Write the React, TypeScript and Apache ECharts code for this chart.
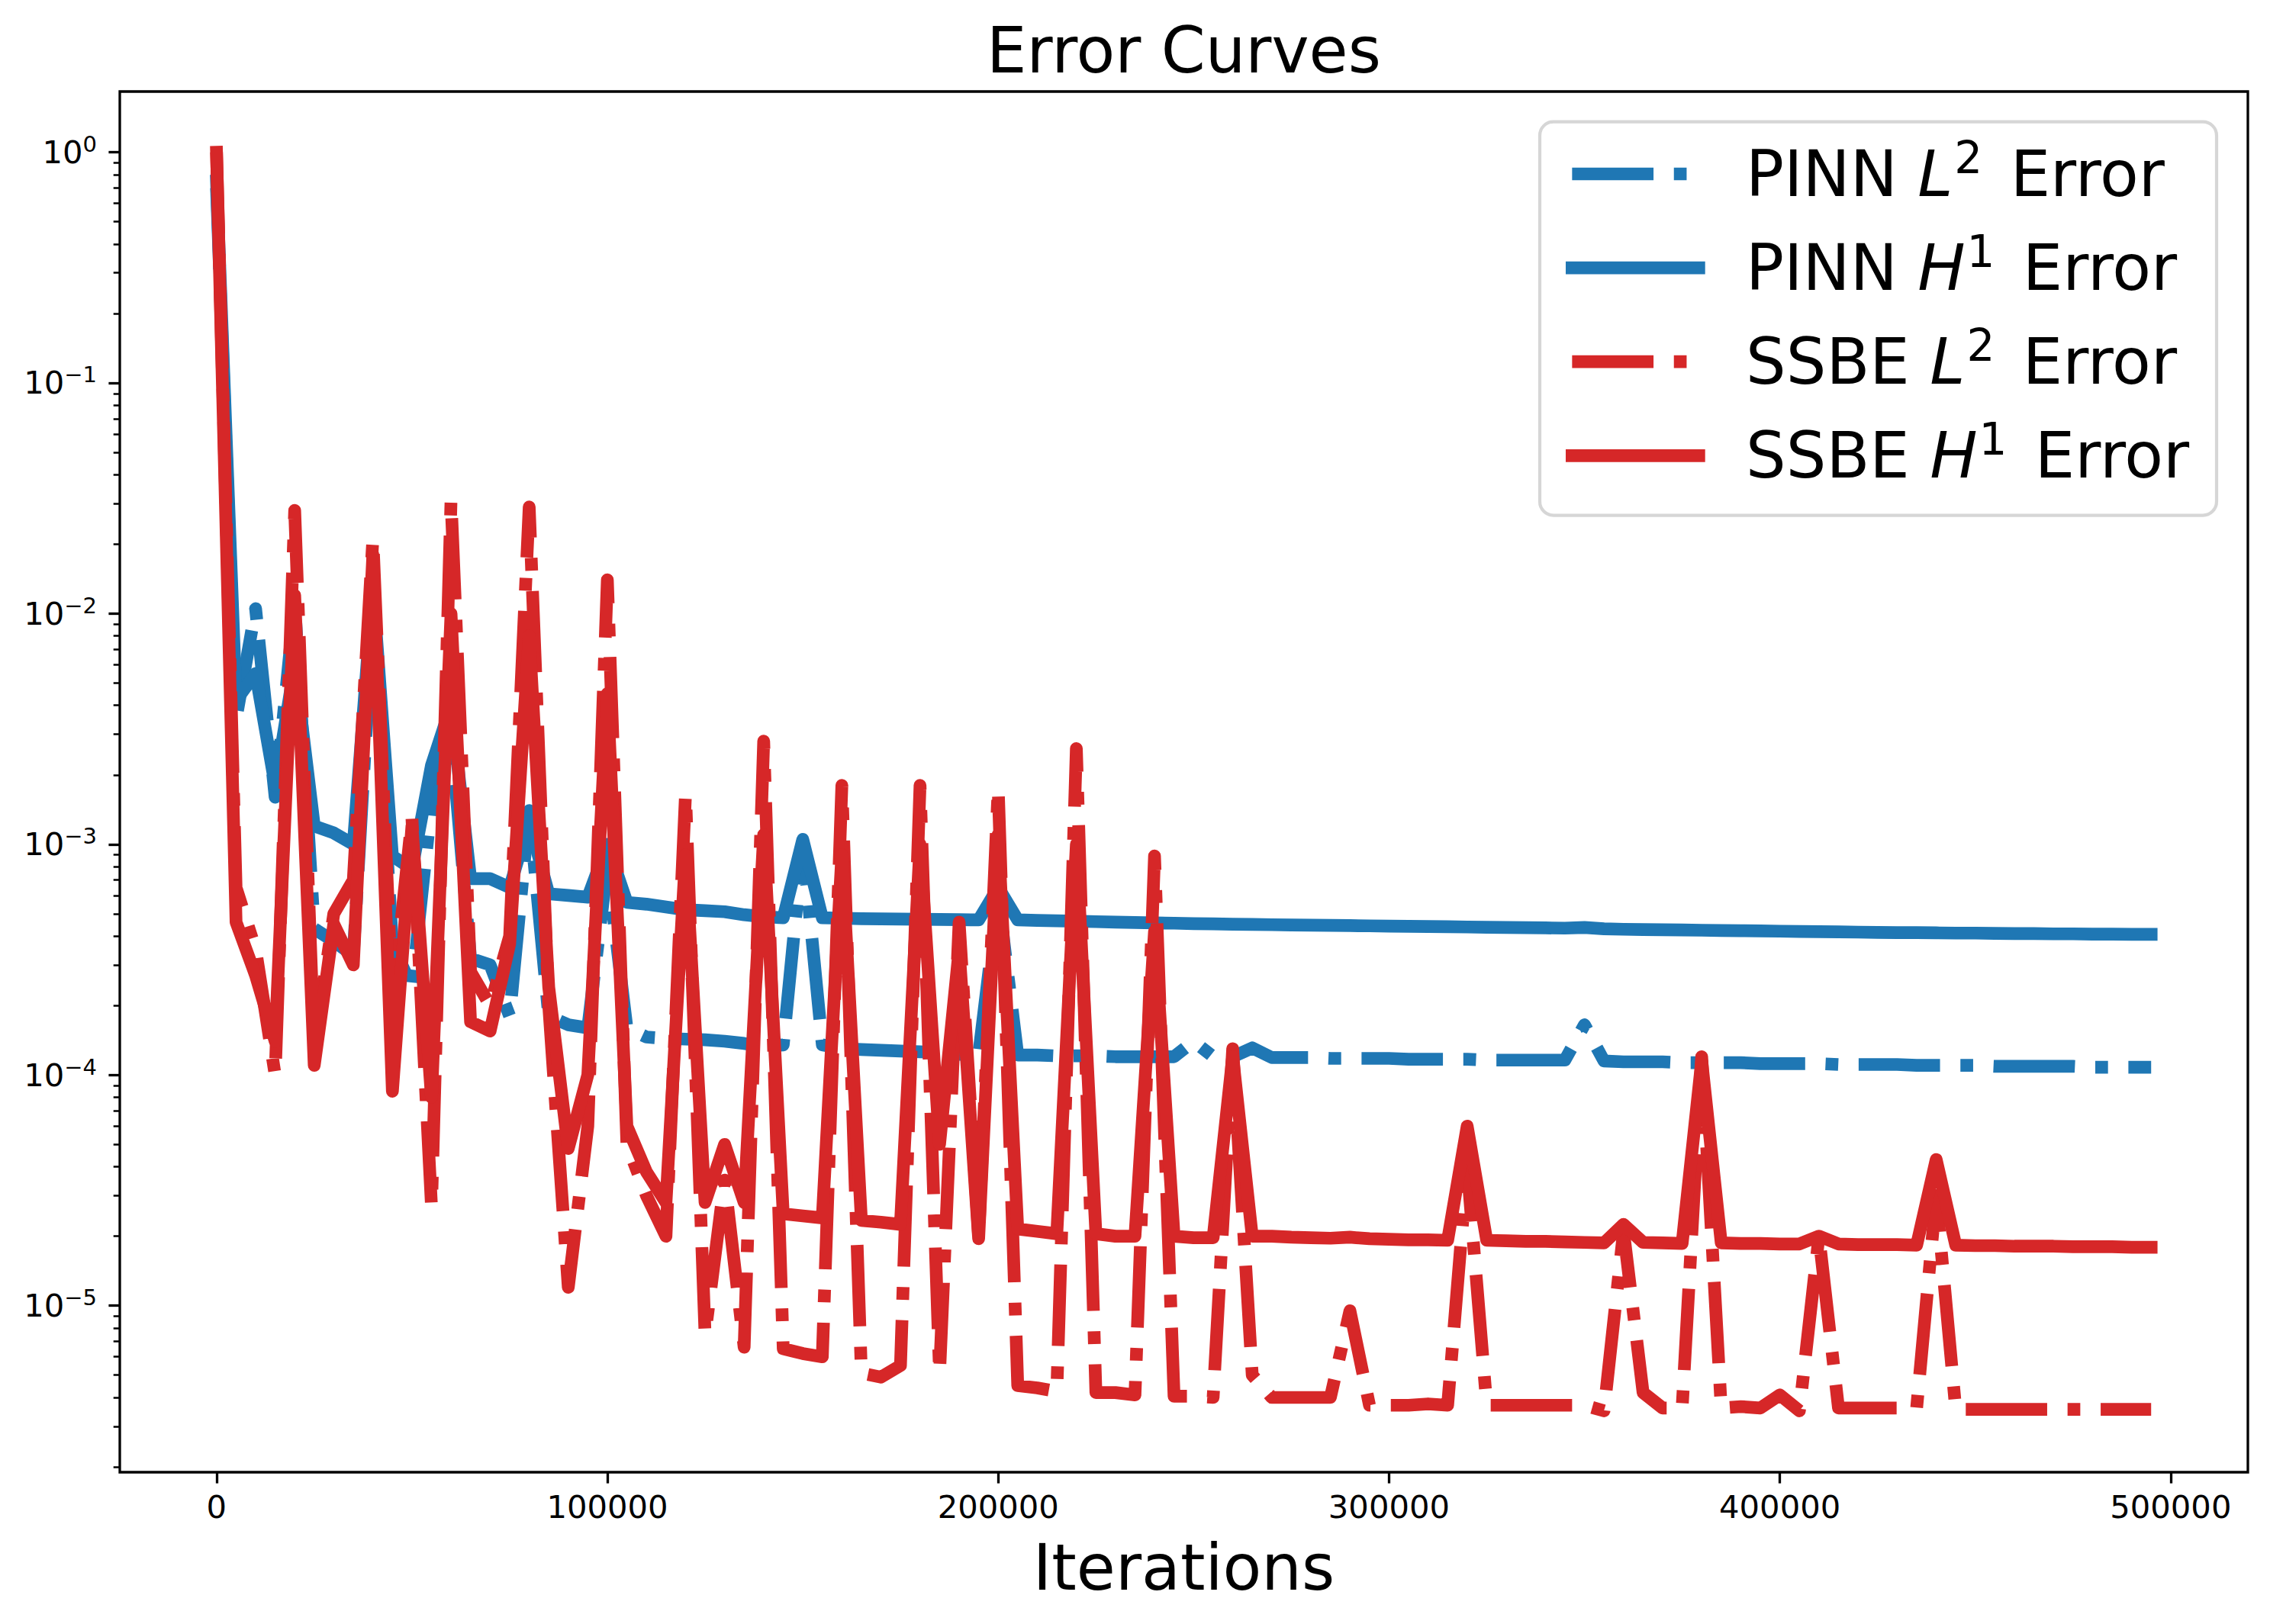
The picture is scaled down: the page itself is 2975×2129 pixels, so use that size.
import React, { useEffect, useRef } from 'react';
import * as echarts from 'echarts';

const iterations = [
  0, 5000, 10000, 15000, 20000, 25000, 30000, 35000, 40000, 45000,
  50000, 55000, 60000, 65000, 70000, 75000, 80000, 85000, 90000, 95000,
  100000, 105000, 110000, 115000, 120000, 125000, 130000, 135000, 140000, 145000,
  150000, 155000, 160000, 165000, 170000, 175000, 180000, 185000, 190000, 195000,
  200000, 205000, 210000, 215000, 220000, 225000, 230000, 235000, 240000, 245000,
  250000, 255000, 260000, 265000, 270000, 275000, 280000, 285000, 290000, 295000,
  300000, 305000, 310000, 315000, 320000, 325000, 330000, 335000, 340000, 345000,
  350000, 355000, 360000, 365000, 370000, 375000, 380000, 385000, 390000, 395000,
  400000, 405000, 410000, 415000, 420000, 425000, 430000, 435000, 440000, 445000,
  450000, 455000, 460000, 465000, 470000, 475000, 480000, 485000, 490000, 495000,
];

const pinnL2 = [
  0.70, 3.5e-3, 1.05e-2, 1.6e-3, 1.1e-2, 4.3e-4, 3.8e-4, 3.3e-4, 1.0e-2, 3.7e-4,
  2.4e-4, 1.5e-3, 3.0e-3, 3.2e-4, 3.0e-4, 1.8e-4, 1.4e-3, 1.8e-4, 1.65e-4, 1.6e-4,
  8.0e-4, 1.6e-4, 1.46e-4, 1.44e-4, 1.43e-4, 1.42e-4, 1.40e-4, 1.37e-4, 1.33e-4, 1.35e-4,
  1.0e-3, 1.35e-4, 1.30e-4, 1.29e-4, 1.28e-4, 1.27e-4, 1.26e-4, 1.25e-4, 1.23e-4, 1.22e-4,
  6.0e-4, 1.22e-4, 1.22e-4, 1.21e-4, 1.21e-4, 1.21e-4, 1.20e-4, 1.20e-4, 1.20e-4, 1.20e-4,
  1.40e-4, 1.20e-4, 1.20e-4, 1.31e-4, 1.19e-4, 1.19e-4, 1.19e-4, 1.18e-4, 1.18e-4, 1.18e-4,
  1.18e-4, 1.17e-4, 1.17e-4, 1.17e-4, 1.17e-4, 1.16e-4, 1.16e-4, 1.16e-4, 1.16e-4, 1.16e-4,
  1.65e-4, 1.15e-4, 1.14e-4, 1.14e-4, 1.14e-4, 1.13e-4, 1.13e-4, 1.13e-4, 1.13e-4, 1.12e-4,
  1.12e-4, 1.12e-4, 1.12e-4, 1.11e-4, 1.11e-4, 1.11e-4, 1.11e-4, 1.10e-4, 1.10e-4, 1.10e-4,
  1.10e-4, 1.09e-4, 1.09e-4, 1.09e-4, 1.09e-4, 1.09e-4, 1.08e-4, 1.08e-4, 1.08e-4, 1.08e-4,
];

const pinnH1 = [
  0.75, 4.2e-3, 5.5e-3, 1.8e-3, 6.0e-3, 1.2e-3, 1.12e-3, 1.0e-3, 1.3e-2, 8.9e-4,
  7.8e-4, 2.2e-3, 4.0e-3, 7.1e-4, 7.1e-4, 6.5e-4, 1.25e-3, 6.1e-4, 6.0e-4, 5.9e-4,
  1.0e-3, 5.6e-4, 5.5e-4, 5.35e-4, 5.2e-4, 5.15e-4, 5.1e-4, 4.95e-4, 4.85e-4, 4.8e-4,
  1.05e-3, 4.8e-4, 4.78e-4, 4.76e-4, 4.75e-4, 4.74e-4, 4.73e-4, 4.72e-4, 4.71e-4, 4.70e-4,
  6.5e-4, 4.70e-4, 4.68e-4, 4.66e-4, 4.64e-4, 4.62e-4, 4.60e-4, 4.58e-4, 4.56e-4, 4.55e-4,
  4.53e-4, 4.52e-4, 4.50e-4, 4.49e-4, 4.48e-4, 4.47e-4, 4.46e-4, 4.45e-4, 4.44e-4, 4.43e-4,
  4.42e-4, 4.41e-4, 4.40e-4, 4.39e-4, 4.38e-4, 4.37e-4, 4.36e-4, 4.35e-4, 4.34e-4, 4.33e-4,
  4.36e-4, 4.30e-4, 4.28e-4, 4.27e-4, 4.26e-4, 4.25e-4, 4.24e-4, 4.23e-4, 4.22e-4, 4.21e-4,
  4.20e-4, 4.19e-4, 4.18e-4, 4.17e-4, 4.16e-4, 4.15e-4, 4.14e-4, 4.14e-4, 4.13e-4, 4.12e-4,
  4.12e-4, 4.11e-4, 4.10e-4, 4.10e-4, 4.09e-4, 4.09e-4, 4.08e-4, 4.08e-4, 4.07e-4, 4.07e-4,
];

const ssbeL2 = [
  1.0, 6.5e-4, 3.5e-4, 1.0e-4, 2.8e-2, 1.3e-4, 5.0e-4, 7.0e-4, 2.1e-2, 2.0e-4,
  1.3e-3, 2.7e-5, 3.1e-2, 2.8e-4, 2.0e-4, 4.0e-4, 2.9e-2, 2.0e-4, 1.2e-5, 6.0e-5,
  1.4e-2, 5.0e-5, 3.0e-5, 2.0e-5, 1.65e-3, 7.5e-6, 3.5e-5, 6.6e-6, 2.8e-3, 6.5e-6,
  6.2e-6, 6.0e-6, 1.8e-3, 5.1e-6, 4.9e-6, 5.5e-6, 1.8e-3, 5.1e-6, 4.6e-4, 2.0e-5,
  1.75e-3, 4.5e-6, 4.4e-6, 4.25e-6, 2.6e-3, 4.2e-6, 4.2e-6, 4.1e-6, 8.9e-4, 4.05e-6,
  4.05e-6, 4.0e-6, 1.3e-4, 5.0e-6, 4.0e-6, 4.0e-6, 4.0e-6, 4.0e-6, 9.5e-6, 3.7e-6,
  3.7e-6, 3.7e-6, 3.75e-6, 3.7e-6, 4.0e-5, 3.7e-6, 3.7e-6, 3.7e-6, 3.7e-6, 3.7e-6,
  3.7e-6, 3.5e-6, 2.1e-5, 4.2e-6, 3.6e-6, 3.6e-6, 1.2e-4, 3.6e-6, 3.65e-6, 3.6e-6,
  4.1e-6, 3.5e-6, 2.0e-5, 3.6e-6, 3.6e-6, 3.6e-6, 3.6e-6, 3.6e-6, 3.0e-5, 3.55e-6,
  3.55e-6, 3.55e-6, 3.55e-6, 3.55e-6, 3.55e-6, 3.55e-6, 3.55e-6, 3.55e-6, 3.55e-6, 3.55e-6,
];

const ssbeH1 = [
  1.0, 4.6e-4, 2.7e-4, 1.4e-4, 1.2e-2, 1.1e-4, 4.5e-4, 3.0e-4, 1.8e-2, 8.5e-5,
  1.2e-3, 8.0e-5, 1.0e-2, 1.7e-4, 1.55e-4, 3.7e-4, 8.0e-3, 2.4e-4, 4.8e-5, 1.0e-4,
  4.5e-3, 6.0e-5, 3.8e-5, 2.8e-5, 9.0e-4, 2.8e-5, 5.0e-5, 2.8e-5, 1.1e-3, 2.5e-5,
  2.45e-5, 2.4e-5, 9.0e-4, 2.34e-5, 2.3e-5, 2.25e-5, 1.0e-3, 5.0e-5, 3.5e-4, 1.95e-5,
  1.1e-3, 2.15e-5, 2.1e-5, 2.05e-5, 1.0e-3, 2.05e-5, 2.0e-5, 2.0e-5, 4.2e-4, 2.0e-5,
  1.97e-5, 1.97e-5, 1.2e-4, 2.0e-5, 2.0e-5, 1.98e-5, 1.97e-5, 1.96e-5, 1.98e-5, 1.95e-5,
  1.94e-5, 1.93e-5, 1.93e-5, 1.92e-5, 6.0e-5, 1.92e-5, 1.91e-5, 1.9e-5, 1.9e-5, 1.89e-5,
  1.88e-5, 1.87e-5, 2.25e-5, 1.88e-5, 1.87e-5, 1.86e-5, 1.15e-4, 1.87e-5, 1.86e-5, 1.86e-5,
  1.85e-5, 1.85e-5, 2.0e-5, 1.85e-5, 1.84e-5, 1.84e-5, 1.84e-5, 1.83e-5, 4.3e-5, 1.83e-5,
  1.82e-5, 1.82e-5, 1.81e-5, 1.81e-5, 1.81e-5, 1.8e-5, 1.8e-5, 1.8e-5, 1.79e-5, 1.79e-5,
];

const xTickValues = [0, 100000, 200000, 300000, 400000, 500000];
const yMajorExponents = [-5, -4, -3, -2, -1, 0];
const yMinorMantissas = [2, 3, 4, 5, 6, 7, 8, 9];
const yMinorDecades = [-6, -5, -4, -3, -2, -1];

const seriesNames = ['PINN L2 Error', 'PINN H1 Error', 'SSBE L2 Error', 'SSBE H1 Error'];
const legendPrefix = ['PINN', 'PINN', 'SSBE', 'SSBE'];
const legendSymbol = ['L', 'H', 'L', 'H'];
const legendSup = ['2', '1', '2', '1'];

const BLUE = '#1f77b4';
const RED = '#d62728';
const FONT = 'DejaVu Sans';

const X_MIN = -24750;
const X_MAX = 519750;
const Y_LOG_MIN = -5.722;
const Y_LOG_MAX = 0.263;

const LW = 16.7;
const DASHDOT = [106.7, 26.7, 16.7, 26.7];

function makeSeries(name: string, values: number[], color: string, dashed: boolean) {
  return {
    name,
    type: 'line',
    xAxisIndex: 0,
    yAxisIndex: 0,
    data: iterations.map((x, i) => [x, values[i]]),
    showSymbol: false,
    symbol: 'none',
    silent: true,
    z: 2,
    emphasis: { disabled: true },
    itemStyle: { color },
    lineStyle: {
      color,
      width: LW,
      type: dashed ? DASHDOT : 'solid',
      cap: dashed ? 'butt' : 'square',
      join: 'round',
    },
  };
}

export default function App() {
  const ref = useRef<HTMLDivElement>(null);

  useEffect(() => {
    if (!ref.current) return;
    const chart = echarts.init(ref.current, null, { renderer: 'svg' });

    const minorTicks: number[] = [];
    yMinorDecades.forEach((d) => {
      yMinorMantissas.forEach((m) => {
        const v = Math.log10(m) + d;
        if (v >= Y_LOG_MIN && v <= Y_LOG_MAX) minorTicks.push(v);
      });
    });

    const option = {
      animation: false,
      backgroundColor: '#ffffff',
      title: {
        text: 'Error Curves',
        left: 1551.5,
        top: 24.5,
        textAlign: 'center',
        padding: 0,
        textStyle: { fontFamily: FONT, fontSize: 83, fontWeight: 'normal', color: '#000' },
      },
      grid: {
        left: 157,
        top: 120,
        width: 2789,
        height: 1810,
        show: true,
        borderColor: '#000',
        borderWidth: 3.3,
        backgroundColor: 'transparent',
        containLabel: false,
        outerBoundsMode: 'none',
      },
      legend: {
        orient: 'vertical',
        left: 2052,
        top: 178,
        padding: 0,
        itemWidth: 166,
        itemHeight: 17,
        itemGap: 31.6,
        selectedMode: false,
        data: seriesNames,
        itemStyle: { opacity: 0 },
        lineStyle: { width: LW },
        formatter: (name: string) => {
          const i = seriesNames.indexOf(name);
          return `{g| }{n|${legendPrefix[i]} }{i|${legendSymbol[i]}}{s|${legendSup[i]}}{n| Error}`;
        },
        textStyle: {
          fontFamily: FONT,
          fontSize: 83,
          color: '#000',
          rich: {
            g: { width: 56.7, fontSize: 83, lineHeight: 100, fontFamily: FONT },
            n: { fontSize: 83, lineHeight: 100, fontFamily: FONT, color: '#000' },
            i: { fontSize: 83, lineHeight: 100, fontFamily: FONT, fontStyle: 'italic', color: '#000', padding: [0, 2, 0, 0] },
            s: { fontSize: 58, lineHeight: 54, fontFamily: FONT, verticalAlign: 'top', color: '#000', padding: [0, 10, 0, 0] },
          },
        },
        z: 5,
      },
      graphic: [
        {
          type: 'rect',
          z: 3,
          shape: { x: 2018, y: 159.6, width: 887, height: 516, r: 18 },
          style: { fill: 'rgba(255,255,255,0.8)', stroke: 'rgba(204,204,204,0.8)', lineWidth: 4.2 },
          silent: true,
        },
      ],
      xAxis: [
        {
          type: 'value',
          min: X_MIN,
          max: X_MAX,
          position: 'bottom',
          name: 'Iterations',
          nameLocation: 'middle',
          nameGap: 83.5,
          nameTextStyle: { fontFamily: FONT, fontSize: 83, color: '#000' },
          axisLine: { show: false, onZero: false },
          splitLine: { show: false },
          axisTick: {
            show: true,
            customValues: xTickValues,
            length: 14.6,
            lineStyle: { color: '#000', width: 3.3 },
          },
          axisLabel: {
            customValues: xTickValues,
            margin: 24,
            fontFamily: FONT,
            fontSize: 41.7,
            color: '#000',
            formatter: (v: number) => String(v),
          },
        },
      ],
      yAxis: [
        {
          type: 'log',
          logBase: 10,
          min: Math.pow(10, Y_LOG_MIN),
          max: Math.pow(10, Y_LOG_MAX),
          show: false,
          splitLine: { show: false },
          axisLine: { onZero: false },
        },
        {
          type: 'value',
          min: Y_LOG_MIN,
          max: Y_LOG_MAX,
          position: 'left',
          offset: 0,
          axisLine: { show: false, onZero: false },
          splitLine: { show: false },
          axisTick: {
            show: true,
            customValues: yMajorExponents,
            length: 14.6,
            lineStyle: { color: '#000', width: 3.3 },
          },
          axisLabel: {
            customValues: yMajorExponents,
            margin: 30,
            color: '#000',
            formatter: (v: number) => {
              const e = Math.round(v);
              const s = e < 0 ? '\u2212' + String(-e) : String(e);
              return `{b|10}{s|${s}}`;
            },
            rich: {
              b: { fontFamily: FONT, fontSize: 41.7, lineHeight: 50, color: '#000' },
              s: { fontFamily: FONT, fontSize: 29, lineHeight: 26, verticalAlign: 'top', color: '#000' },
            },
          },
        },
        {
          type: 'value',
          min: Y_LOG_MIN,
          max: Y_LOG_MAX,
          position: 'left',
          offset: 0,
          axisLine: { show: false, onZero: false },
          splitLine: { show: false },
          axisTick: {
            show: true,
            customValues: minorTicks,
            length: 8.3,
            lineStyle: { color: '#000', width: 2.5 },
          },
          axisLabel: { show: false },
        },
      ],
      series: [
        makeSeries(seriesNames[0], pinnL2, BLUE, true),
        makeSeries(seriesNames[1], pinnH1, BLUE, false),
        makeSeries(seriesNames[2], ssbeL2, RED, true),
        makeSeries(seriesNames[3], ssbeH1, RED, false),
      ],
    };

    chart.setOption(option as any);
    return () => {
      chart.dispose();
    };
  }, []);

  return (
    <div
      ref={ref}
      style={{ position: 'absolute', left: 0, top: 0, width: 2975, height: 2129, background: '#fff' }}
    />
  );
}
